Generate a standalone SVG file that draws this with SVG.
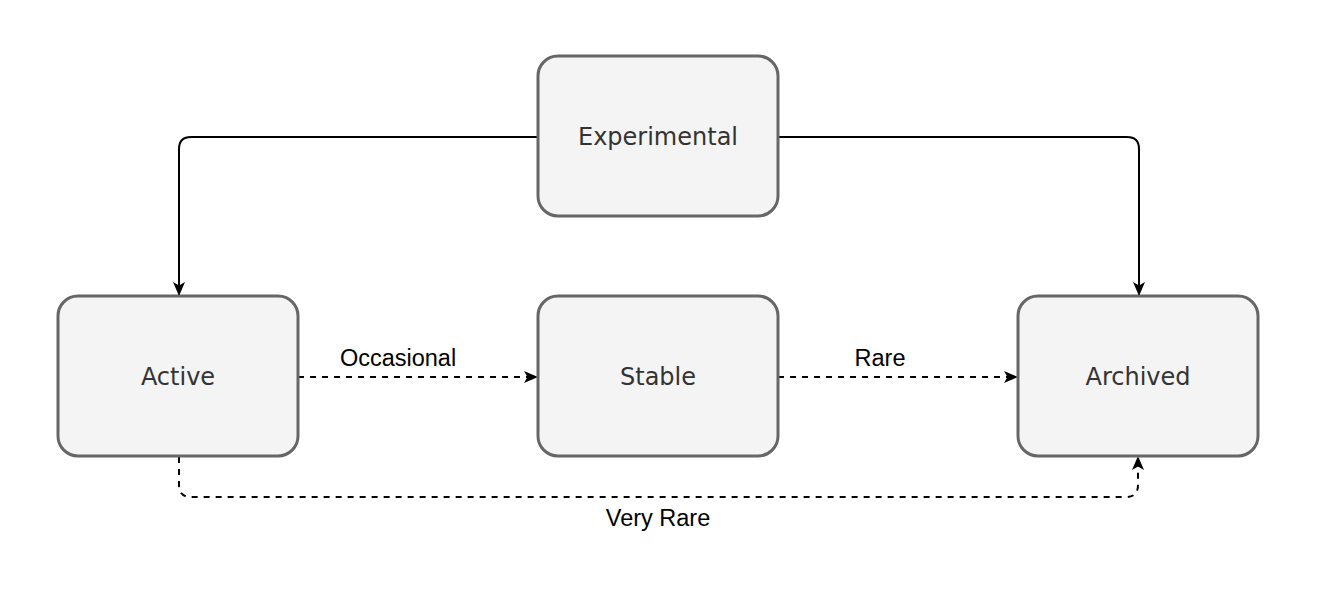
<svg xmlns="http://www.w3.org/2000/svg" width="1320" height="610" viewBox="0 0 1320 610">
<defs>
<style>
.node rect{fill:#f4f4f4;stroke:#666666;stroke-width:3}
.node text{font-family:"DejaVu Sans",Verdana,sans-serif;font-size:24px;fill:#333333;text-anchor:middle}
.edge{fill:none;stroke:#000;stroke-width:2}
.dash{stroke-dasharray:6 6}
.lbl{font-family:"Liberation Sans",Arial,sans-serif;font-size:23.5px;fill:#000;text-anchor:middle}
</style>
<marker id="arr" viewBox="0 0 14 14" refX="13" refY="7" markerWidth="14" markerHeight="14" markerUnits="userSpaceOnUse" orient="auto">
<path d="M0,1 L14,7 L0,13 L3.5,7 Z" fill="#000"/>
</marker>
</defs>
<rect width="1320" height="610" fill="#fff"/>
<g id="connectors">
<path class="edge" d="M538,137 H191 Q179,137 179,149 V295" marker-end="url(#arr)"/>
<path class="edge" d="M778,137 H1127 Q1139,137 1139,149 V295" marker-end="url(#arr)"/>
<path class="edge dash" d="M298,377 H537" marker-end="url(#arr)"/>
<path class="edge dash" d="M778,377 H1017" marker-end="url(#arr)"/>
<path class="edge dash" d="M179,457 V485 Q179,497 191,497 H1126 Q1138,497 1138,485 V457" marker-end="url(#arr)"/>
<text class="lbl" x="398" y="366">Occasional</text>
<text class="lbl" x="880" y="366">Rare</text>
<text class="lbl" x="658" y="526">Very Rare</text>
</g>
<g id="experimental" class="node"><rect x="538" y="56" width="240" height="160" rx="20"/><text x="658" y="145">Experimental</text></g>
<g id="active" class="node"><rect x="58" y="296" width="240" height="160" rx="20"/><text x="178" y="385">Active</text></g>
<g id="stable" class="node"><rect x="538" y="296" width="240" height="160" rx="20"/><text x="658" y="385">Stable</text></g>
<g id="archived" class="node"><rect x="1018" y="296" width="240" height="160" rx="20"/><text x="1138" y="385">Archived</text></g>
</svg>
